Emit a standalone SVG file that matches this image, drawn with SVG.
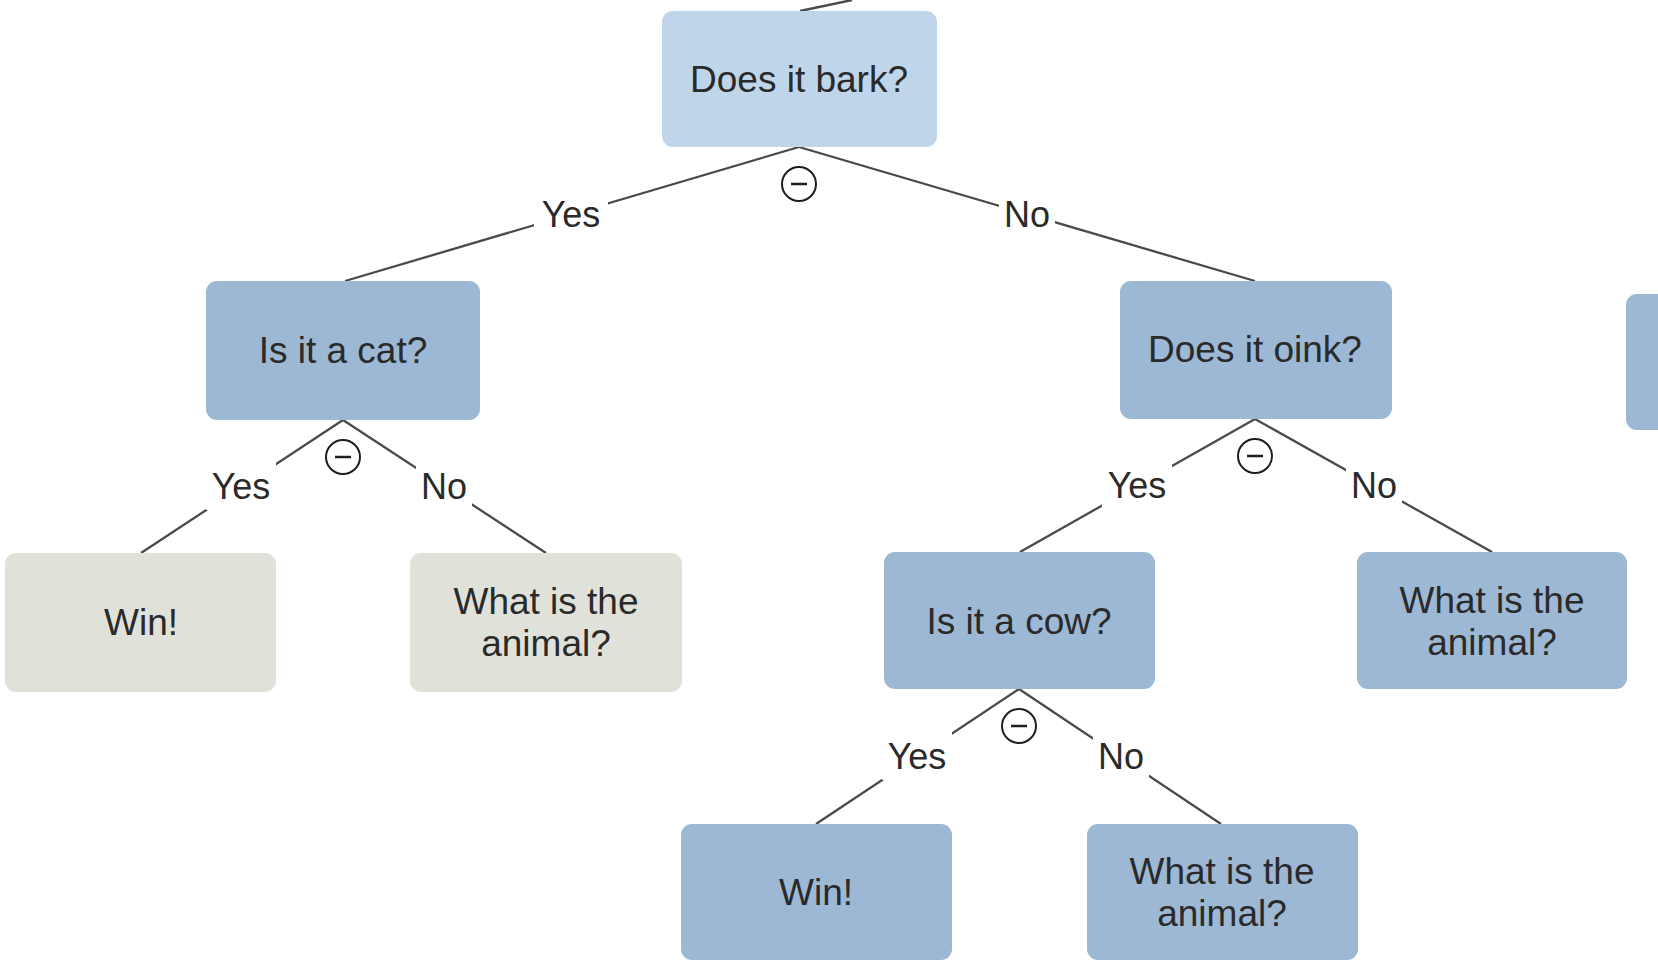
<svg xmlns="http://www.w3.org/2000/svg" width="1658" height="964" viewBox="0 0 1658 964">
<style>
.node rect{rx:11;ry:11}
.q{fill:#9db8d4}
.root{fill:#bfd5e9}
.leaf{fill:#e0e2da}
text{font-family:"Liberation Sans",Arial,sans-serif;fill:#2a2a2a;text-anchor:middle;dominant-baseline:central}
.nt{font-size:37px}
.lt{font-size:36px}
.edge{stroke:#4a4a4a;stroke-width:2.3;fill:none}
.bg{fill:#ffffff}
.col circle{fill:#ffffff;stroke:#1e1e1e;stroke-width:2}
.col line{stroke:#1e1e1e;stroke-width:2.5}
</style>
<g id="connectors">
<line class="edge" x1="800" y1="11" x2="852" y2="0"/>
<line class="edge" x1="799" y1="147" x2="345" y2="281"/>
<line class="edge" x1="799" y1="147" x2="1255" y2="281"/>
<line class="edge" x1="343" y1="420" x2="141" y2="553"/>
<line class="edge" x1="343" y1="420" x2="546" y2="553"/>
<line class="edge" x1="1255" y1="419" x2="1020" y2="552"/>
<line class="edge" x1="1255" y1="419" x2="1492" y2="552"/>
<line class="edge" x1="1019" y1="689" x2="816" y2="824"/>
<line class="edge" x1="1019" y1="689" x2="1221" y2="824"/>
<g id="labels">
<rect class="bg" x="534" y="194" width="74" height="40"/><text class="lt" x="571" y="214">Yes</text>
<rect class="bg" x="999" y="194" width="56" height="40"/><text class="lt" x="1027" y="214">No</text>
<rect class="bg" x="206" y="462" width="70" height="48"/><text class="lt" x="241" y="486">Yes</text>
<rect class="bg" x="416" y="462" width="56" height="48"/><text class="lt" x="444" y="486">No</text>
<rect class="bg" x="1102" y="461" width="70" height="48"/><text class="lt" x="1137" y="485">Yes</text>
<rect class="bg" x="1346" y="461" width="56" height="48"/><text class="lt" x="1374" y="485">No</text>
<rect class="bg" x="882" y="732" width="70" height="48"/><text class="lt" x="917" y="756">Yes</text>
<rect class="bg" x="1093" y="732" width="56" height="48"/><text class="lt" x="1121" y="756">No</text>
</g>
<g id="collapse" class="col">
<circle cx="799" cy="184" r="17"/><line x1="791" y1="184" x2="807" y2="184"/>
<circle cx="343" cy="457" r="17"/><line x1="335" y1="457" x2="351" y2="457"/>
<circle cx="1255" cy="456" r="17"/><line x1="1247" y1="456" x2="1263" y2="456"/>
<circle cx="1019" cy="726" r="17"/><line x1="1011" y1="726" x2="1027" y2="726"/>
</g>
</g>
<g id="n-bark" class="node"><rect class="root" x="662" y="11" width="275" height="136"/><text class="nt" x="799" y="79">Does it bark?</text></g>
<g id="n-cat" class="node"><rect class="q" x="206" y="281" width="274" height="139"/><text class="nt" x="343" y="350">Is it a cat?</text></g>
<g id="n-oink" class="node"><rect class="q" x="1120" y="281" width="272" height="138"/><text class="nt" x="1255" y="349">Does it oink?</text></g>
<g id="n-right" class="node"><rect class="q" x="1626" y="294" width="60" height="136"/></g>
<g id="n-win1" class="node"><rect class="leaf" x="5" y="553" width="271" height="139"/><text class="nt" x="141" y="622">Win!</text></g>
<g id="n-what1" class="node"><rect class="leaf" x="410" y="553" width="272" height="139"/><text class="nt" x="546" y="601">What is the</text><text class="nt" x="546" y="643">animal?</text></g>
<g id="n-cow" class="node"><rect class="q" x="884" y="552" width="271" height="137"/><text class="nt" x="1019" y="621">Is it a cow?</text></g>
<g id="n-what2" class="node"><rect class="q" x="1357" y="552" width="270" height="137"/><text class="nt" x="1492" y="600">What is the</text><text class="nt" x="1492" y="642">animal?</text></g>
<g id="n-win2" class="node"><rect class="q" x="681" y="824" width="271" height="136"/><text class="nt" x="816" y="892">Win!</text></g>
<g id="n-what3" class="node"><rect class="q" x="1087" y="824" width="271" height="136"/><text class="nt" x="1222" y="871">What is the</text><text class="nt" x="1222" y="913">animal?</text></g>
</svg>
